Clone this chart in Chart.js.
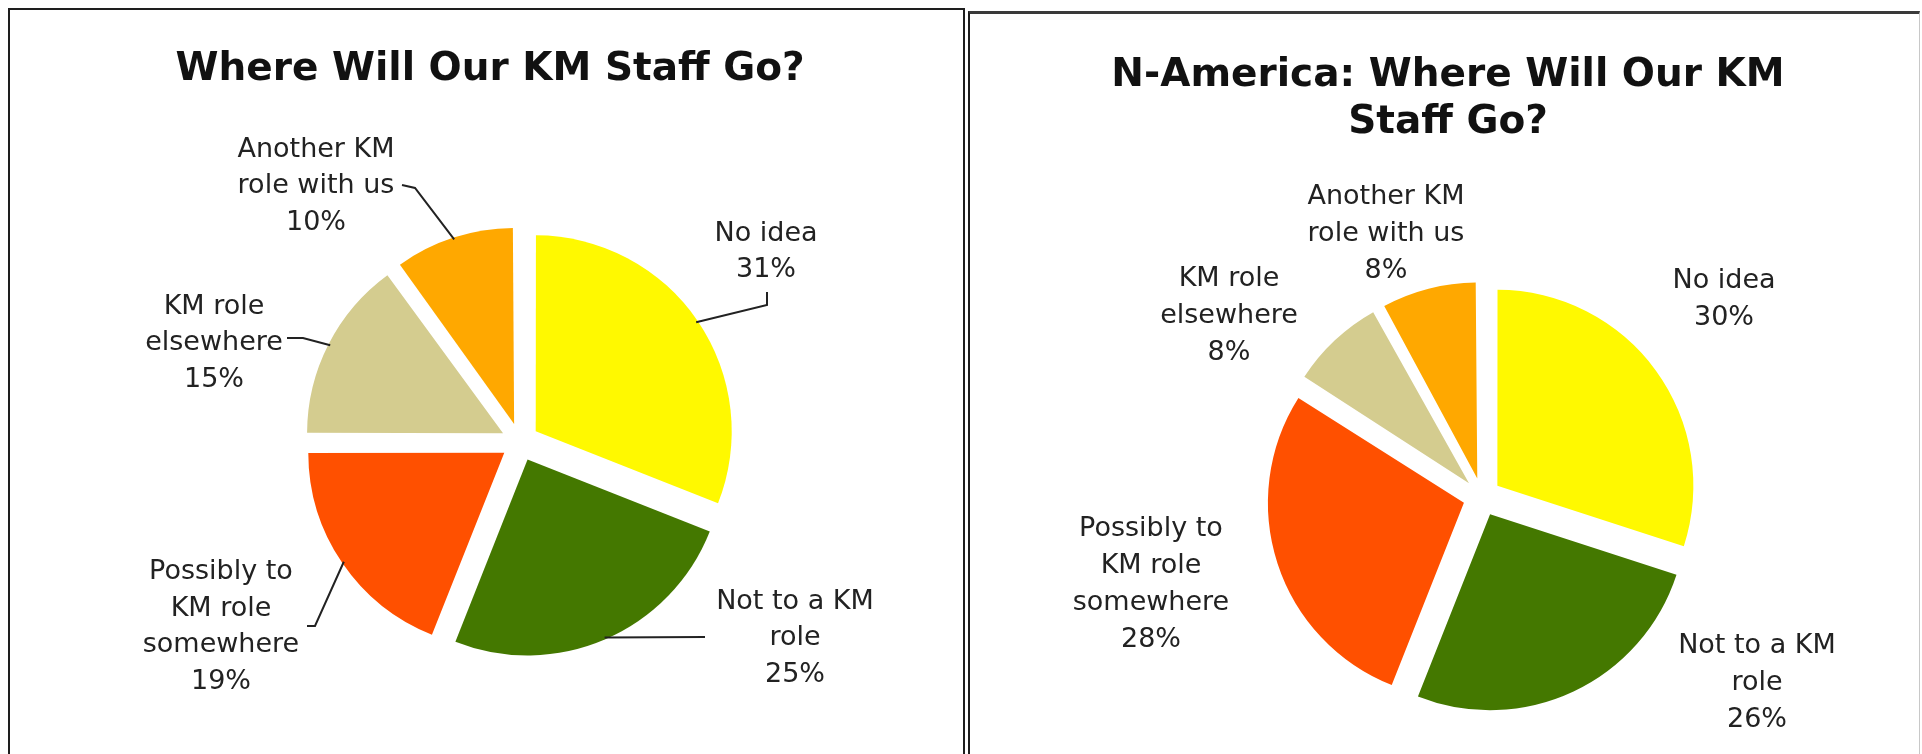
<!DOCTYPE html>
<html>
<head>
<meta charset="utf-8">
<title>Where Will Our KM Staff Go?</title>
<script src="https://cdn.jsdelivr.net/npm/chart.js@4.4.1/dist/chart.umd.min.js"></script>
<style>
  html, body { margin: 0; padding: 0; background: #fff; }
  body { position: relative; width: 1922px; height: 754px; overflow: hidden; }
  .panel { position: absolute; box-sizing: border-box; }
  #allPanel { left: 8px; top: 8px; width: 957px; height: 760px; border: 2px solid #1e1e1e; }
  #naPanel { left: 968px; top: 11px; width: 952px; height: 760px;
    border-top: 3px solid #3a3a3a; border-left: 2px solid #1e1e1e; border-right: 1px solid #c8c8c8; }
  canvas { position: absolute; top: 0; }
  #allChart { left: 0; }
  #naChart { left: 966px; }
</style>
</head>
<body>
<div class="panel" id="allPanel"></div>
<div class="panel" id="naPanel"></div>
<canvas id="allChart" width="966" height="754"></canvas>
<canvas id="naChart" width="956" height="754"></canvas>

<script>
// Answer categories, wrapped the way the slice captions are printed
const categoryLines = [
  ['No idea'],
  ['Not to a KM', 'role'],
  ['Possibly to', 'KM role', 'somewhere'],
  ['KM role', 'elsewhere'],
  ['Another KM', 'role with us'],
]
const categories = categoryLines.map((lines) => lines.join(' '))

// Share of respondents (%), all regions and North America
const allShares = [31, 25, 19, 15, 10]
const naShares = [30, 26, 28, 8, 8]

const sliceColors = ['#FFF900', '#447800', '#FF5000', '#D4CC8F', '#FFA800']

const FONT = '"DejaVu Sans", Verdana, sans-serif'
const EXPLODE = 19 // how far each slice is pulled out from the centre

/**
 * Chart.js grows the radius of narrow exploded slices; pull it back so
 * every slice keeps the same radius once it is pulled out.
 */
const evenRadius = {
  id: 'evenRadius',
  afterDatasetUpdate(chart, args) {
    args.meta.data.forEach((arc) => {
      const fix = 1 - Math.sin(Math.min(Math.PI, arc.circumference || 0))
      arc.outerRadius -= EXPLODE * fix
    })
  },
}

/**
 * Draws the chart heading plus a caption (name + percentage) next to every
 * slice, with optional leader lines running to the slice's outer edge.
 */
const sliceCaptions = {
  id: 'sliceCaptions',
  afterDatasetsDraw(chart, args, opts) {
    const { ctx } = chart
    const arcs = chart.getDatasetMeta(0).data
    const values = chart.data.datasets[0].data
    const radius = chart.options.radius

    ctx.save()
    ctx.textAlign = 'center'
    ctx.textBaseline = 'middle'

    ctx.fillStyle = '#111'
    ctx.font = `bold ${opts.titleSize}px ${FONT}`
    opts.title.forEach((line, i) => {
      ctx.fillText(line, opts.titleX, opts.titleY + i * opts.titleLeading)
    })

    ctx.fillStyle = '#222'
    ctx.strokeStyle = '#222'
    ctx.lineWidth = 2
    ctx.font = `${opts.labelSize}px ${FONT}`
    arcs.forEach((arc, i) => {
      const lines = [...categoryLines[i], `${values[i]}%`]
      const [dx, dy] = opts.labelOffsets[i]
      const cx = arc.x + dx
      const cy = arc.y + dy
      const top = cy - ((lines.length - 1) * opts.leading) / 2
      lines.forEach((text, j) => ctx.fillText(text, cx, top + j * opts.leading))

      const leader = opts.leaders && opts.leaders[i]
      if (!leader) return
      const mid = (arc.startAngle + arc.endAngle) / 2
      const reach = radius + EXPLODE - 2
      ctx.beginPath()
      leader.forEach(([px, py], k) => {
        if (k === 0) ctx.moveTo(cx + px, cy + py)
        else ctx.lineTo(cx + px, cy + py)
      })
      ctx.lineTo(arc.x + Math.cos(mid) * reach, arc.y + Math.sin(mid) * reach)
      ctx.stroke()
    })
    ctx.restore()
  },
}

function buildPie(canvasId, shares, padding, captions) {
  return new Chart(document.getElementById(canvasId), {
    type: 'pie',
    data: {
      labels: categories,
      datasets: [
        {
          data: shares,
          backgroundColor: sliceColors,
          borderWidth: 0,
          offset: EXPLODE * 4,
          hoverOffset: 0,
        },
      ],
    },
    options: {
      responsive: false,
      animation: false,
      events: [],
      radius: 196,
      layout: { padding },
      plugins: {
        legend: { display: false },
        tooltip: { enabled: false },
        sliceCaptions: captions,
      },
    },
    plugins: [evenRadius, sliceCaptions],
  })
}

buildPie('allChart', allShares, { left: 74, right: 0, top: 130, bottom: 0 }, {
  title: ['Where Will Our KM Staff Go?'],
  titleX: 490,
  titleY: 70,
  titleSize: 39,
  titleLeading: 47,
  labelSize: 27,
  leading: 36.5,
  labelOffsets: [[246, -190], [275, 196], [-299, 185], [-306, -99], [-204, -256]],
  leaders: [
    [[1, 40], [1, 53]],
    [[-90, -1]],
    [[86, -1], [94, -1]],
    [[73, -5], [89, -5]],
    [[86, -1], [99, 2]],
  ],
})

buildPie('naChart', naShares, { left: 76, right: 0, top: 240, bottom: 0 }, {
  title: ['N-America: Where Will Our KM', 'Staff Go?'],
  titleX: 482,
  titleY: 76,
  titleSize: 39,
  titleLeading: 47,
  labelSize: 27,
  leading: 37,
  labelOffsets: [[242, -198], [275, 186], [-331, 87], [-253, -181], [-96, -263]],
  leaders: null,
})
</script>
</body>
</html>
